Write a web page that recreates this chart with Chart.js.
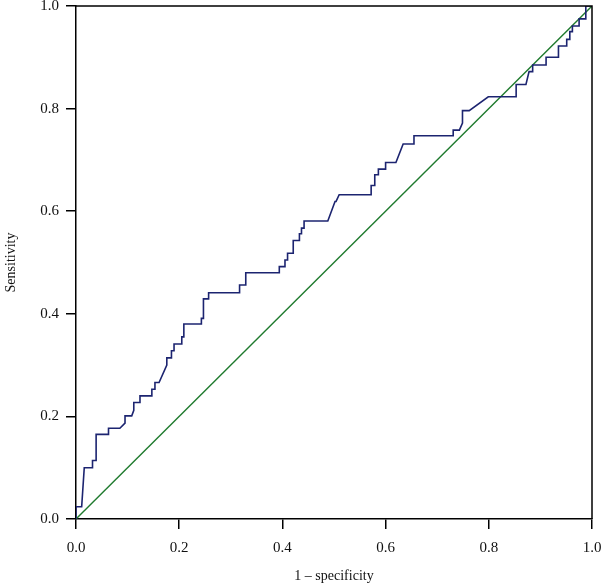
<!DOCTYPE html>
<html>
<head>
<meta charset="utf-8">
<script src="https://cdn.jsdelivr.net/npm/chart.js@4/dist/chart.umd.min.js"></script>
<style>
  html, body { margin: 0; padding: 0; background: #fff; }
  #wrap { width: 601px; height: 586px; position: relative; }
</style>
</head>
<body>
<div id="wrap"><canvas id="roc"></canvas></div>
<script>
/* --- ROC curve data (1 - specificity, sensitivity) --- */
var fprValues = [
  0.000, 0.000, 0.011, 0.016, 0.032, 0.032, 0.039, 0.039, 0.063, 0.063,
  0.085, 0.095, 0.095, 0.108, 0.112, 0.112, 0.124, 0.124, 0.147, 0.147,
  0.153, 0.153, 0.161, 0.176, 0.176, 0.185, 0.185, 0.190, 0.190, 0.205,
  0.205, 0.209, 0.209, 0.243, 0.243, 0.247, 0.247, 0.257, 0.257, 0.317,
  0.317, 0.329, 0.329, 0.394, 0.394, 0.405, 0.405, 0.410, 0.410, 0.421,
  0.421, 0.433, 0.433, 0.437, 0.437, 0.442, 0.442, 0.488, 0.502, 0.504,
  0.510, 0.572, 0.572, 0.579, 0.579, 0.586, 0.586, 0.600, 0.600, 0.620,
  0.634, 0.655, 0.655, 0.731, 0.731, 0.743, 0.749, 0.749, 0.762, 0.799,
  0.853, 0.853, 0.872, 0.878, 0.885, 0.885, 0.911, 0.911, 0.935, 0.935,
  0.951, 0.951, 0.957, 0.957, 0.962, 0.962, 0.975, 0.975, 0.988, 0.988,
  1.000
];
var tprValues = [
  0.000, 0.024, 0.024, 0.100, 0.100, 0.114, 0.114, 0.165, 0.165, 0.177,
  0.177, 0.187, 0.201, 0.201, 0.212, 0.227, 0.227, 0.240, 0.240, 0.253,
  0.253, 0.266, 0.266, 0.300, 0.314, 0.314, 0.328, 0.328, 0.341, 0.341,
  0.355, 0.355, 0.380, 0.380, 0.391, 0.391, 0.429, 0.429, 0.441, 0.441,
  0.456, 0.456, 0.480, 0.480, 0.492, 0.492, 0.505, 0.505, 0.518, 0.518,
  0.543, 0.543, 0.556, 0.556, 0.567, 0.567, 0.581, 0.581, 0.619, 0.619,
  0.632, 0.632, 0.650, 0.650, 0.671, 0.671, 0.682, 0.682, 0.695, 0.695,
  0.731, 0.731, 0.747, 0.747, 0.758, 0.758, 0.772, 0.796, 0.796, 0.823,
  0.823, 0.847, 0.847, 0.872, 0.872, 0.885, 0.885, 0.900, 0.900, 0.922,
  0.922, 0.935, 0.935, 0.950, 0.950, 0.961, 0.961, 0.975, 0.975, 1.000,
  1.000
];

/* --- Reference line (chance) --- */
var refX = [0, 1];
var refY = [0, 1];

/* --- Axis ticks --- */
var tickValues = [0, 0.2, 0.4, 0.6, 0.8, 1.0];

function toPoints(xs, ys) {
  var pts = [];
  for (var i = 0; i < xs.length; i++) pts.push({ x: xs[i], y: ys[i] });
  return pts;
}

/* --- Frame around the plot (top + right borders) --- */
var framePlugin = {
  id: 'rocFrame',
  afterDatasetsDraw: function(chart) {
    var a = chart.chartArea;
    var ctx = chart.ctx;
    ctx.save();
    ctx.strokeStyle = '#000';
    ctx.lineWidth = 1.5;
    ctx.beginPath();
    ctx.moveTo(a.left, a.top);
    ctx.lineTo(a.right, a.top);
    ctx.lineTo(a.right, a.bottom);
    ctx.stroke();
    ctx.restore();
  }
};

var serif = 'Liberation Serif, DejaVu Serif, serif';

var axisCommon = {
  type: 'linear',
  min: 0,
  max: 1,
  afterBuildTicks: function(scale) {
    scale.ticks = tickValues.map(function(v) { return { value: v }; });
  },
  border: { display: true, color: '#000', width: 1.5 },
  grid: { drawOnChartArea: false, drawTicks: true, tickLength: 10, color: '#000', lineWidth: 1.5 }
};

new Chart(document.getElementById('roc'), {
  type: 'scatter',
  data: {
    datasets: [
      {
        label: 'ROC',
        data: toPoints(fprValues, tprValues),
        showLine: true,
        borderColor: '#1c2470',
        borderWidth: 1.6,
        pointRadius: 0,
        tension: 0
      },
      {
        label: 'Reference',
        data: toPoints(refX, refY),
        showLine: true,
        borderColor: '#1f7a2e',
        borderWidth: 1.4,
        pointRadius: 0
      }
    ]
  },
  options: {
    responsive: true,
    maintainAspectRatio: false,
    animation: false,
    layout: { padding: { top: 6, right: 9, left: 0, bottom: 0 } },
    plugins: {
      legend: { display: false },
      tooltip: { enabled: false }
    },
    scales: {
      x: Object.assign({}, axisCommon, {
        position: 'bottom',
        afterFit: function(scale) {
          scale.height = 67;
          scale.paddingLeft = 0;
          scale.paddingRight = 0;
        },
        ticks: {
          color: '#111',
          padding: 10,
          maxRotation: 0,
          font: { family: serif, size: 15 },
          callback: function(v) { return Number(v).toFixed(1); }
        },
        title: {
          display: true,
          text: '1 \u2013 specificity',
          color: '#111',
          padding: { top: 0, bottom: 1 },
          font: { family: serif, size: 14 }
        }
      }),
      y: Object.assign({}, axisCommon, {
        position: 'left',
        afterFit: function(scale) {
          scale.width = 76;
          scale.paddingTop = 0;
          scale.paddingBottom = 0;
        },
        ticks: {
          color: '#111',
          padding: 7,
          font: { family: serif, size: 15 },
          callback: function(v) { return Number(v).toFixed(1); }
        },
        title: {
          display: true,
          text: 'Sensitivity',
          color: '#111',
          padding: { top: 3, bottom: 0 },
          font: { family: serif, size: 14 }
        }
      })
    }
  },
  plugins: [framePlugin]
});
</script>
</body>
</html>
